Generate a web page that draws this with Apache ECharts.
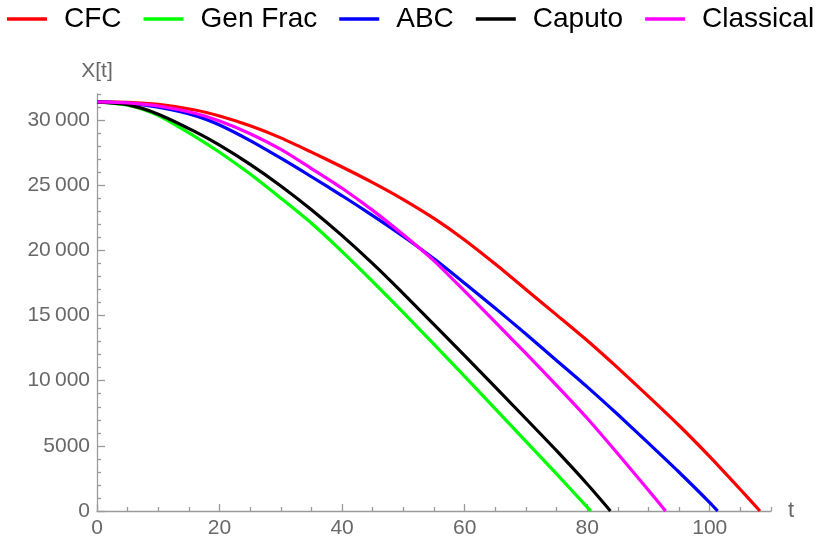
<!DOCTYPE html>
<html>
<head>
<meta charset="utf-8">
<script src="https://cdn.jsdelivr.net/npm/echarts@6/dist/echarts.min.js"></script>
<style>
html,body{margin:0;padding:0;background:#fff;}
#chart{width:821px;height:540px;}
</style>
</head>
<body>
<div id="chart"></div>
<script>
// ---- data ----
const seriesNames = ['CFC', 'Gen Frac', 'ABC', 'Caputo', 'Classical'];

const cfcT = [0, 5, 10, 16, 20, 25, 30, 35, 40, 45, 50, 55, 60, 65, 70, 75, 80, 85, 90, 95, 100, 105, 108.2];
const cfcX = [31400, 31360, 31200, 30770, 30310, 29560, 28635, 27540, 26400, 25200, 23900, 22450, 20800, 18950, 17000, 15050, 13080, 10980, 8800, 6560, 4170, 1650, 0];

const genFracT = [0, 5, 10, 16, 20, 25, 30, 35, 40, 45, 50, 60, 70, 75, 80, 80.6];
const genFracX = [31400, 31140, 30350, 28730, 27530, 25855, 24005, 22080, 19910, 17610, 15230, 10330, 5350, 2850, 300, 0];

const abcT = [0, 5, 10, 16, 20, 25, 30, 35, 40, 45, 50, 55, 60, 65, 70, 75, 80, 85, 90, 95, 100, 101.3];
const abcX = [31400, 31300, 30980, 30340, 29620, 28420, 27070, 25650, 24190, 22665, 21065, 19354, 17479, 15554, 13579, 11554, 9528, 7403, 5203, 2974, 649, 0];

const caputoT = [0, 5, 10, 16, 20, 25, 30, 35, 40, 45, 50, 60, 70, 75, 80, 83.8];
const caputoX = [31400, 31180, 30450, 29110, 28070, 26595, 24945, 23120, 21130, 18980, 16680, 11930, 7080, 4630, 2070, 0];

const classicalT = [0, 5, 10, 16, 20, 25, 30, 35, 40, 45, 50, 55, 60, 65, 70, 75, 80, 85, 90, 92.8];
const classicalX = [31400, 31320, 31080, 30520, 29920, 28945, 27745, 26280, 24770, 23070, 21195, 19198, 16866, 14490, 12090, 9640, 7116, 4390, 1590, 0];

const xMajorTicks = [0, 20, 40, 60, 80, 100];
const xMinorTicks = [5, 10, 15, 25, 30, 35, 45, 50, 55, 65, 70, 75, 85, 90, 95, 105, 110];
const yMajorTicks = [0, 5000, 10000, 15000, 20000, 25000, 30000];
const yMinorTicks = [1000, 2000, 3000, 4000, 6000, 7000, 8000, 9000, 11000, 12000, 13000, 14000,
  16000, 17000, 18000, 19000, 21000, 22000, 23000, 24000, 26000, 27000, 28000, 29000, 31000, 32000];

const seriesColors = ['#ff0000', '#00ff00', '#0000ff', '#000000', '#ff00ff'];
// ----------------------------------------------

function pairs(t, x) { return t.map((v, i) => [v, x[i]]); }
const dataSets = [pairs(cfcT, cfcX), pairs(genFracT, genFracX), pairs(abcT, abcX),
                  pairs(caputoT, caputoX), pairs(classicalT, classicalX)];

function fmtY(v) {
  const s = String(v);
  return v >= 10000 ? s.slice(0, -3) + '\u2009' + s.slice(-3) : s;
}

const axisGray = '#9a9a9a';
const labelGray = '#686868';
const font = 'Liberation Sans, Arial, sans-serif';

const chart = echarts.init(document.getElementById('chart'), null, {renderer: 'canvas'});
chart.setOption({
  animation: false,
  backgroundColor: '#ffffff',
  textStyle: {fontFamily: font},
  legend: {
    top: 5, left: 7, width: 814, padding: 0,
    icon: 'rect', itemWidth: 40, itemHeight: 3.5, itemGap: 22,
    textStyle: {fontSize: 28, color: '#000', fontFamily: font, padding: [0, 0, 0, 12]},
    data: seriesNames
  },
  grid: {left: 97, right: 50, top: 94, bottom: 29},
  xAxis: [{
    type: 'value', min: 0, max: 110,
    name: 't', nameLocation: 'end', nameGap: 17,
    nameTextStyle: {fontSize: 22, color: labelGray, verticalAlign: 'middle'},
    axisLine: {show: true, lineStyle: {color: axisGray, width: 1.3}},
    axisTick: {show: true, inside: true, length: 7, customValues: xMajorTicks, lineStyle: {color: axisGray, width: 1.3}},
    axisLabel: {customValues: xMajorTicks, color: labelGray, fontSize: 21, margin: 7},
    splitLine: {show: false}
  }, {
    type: 'value', min: 0, max: 110, position: 'bottom',
    axisLine: {show: false},
    axisTick: {show: true, inside: true, length: 4, customValues: xMinorTicks, lineStyle: {color: axisGray, width: 1.3}},
    axisLabel: {show: false},
    splitLine: {show: false}
  }],
  yAxis: [{
    type: 'value', min: 0, max: 32000,
    name: 'X[t]', nameLocation: 'end', nameGap: 12,
    nameTextStyle: {fontSize: 21, color: labelGray},
    axisLine: {show: true, lineStyle: {color: axisGray, width: 1.3}},
    axisTick: {show: true, inside: true, length: 8, customValues: yMajorTicks, lineStyle: {color: axisGray, width: 1.3}},
    axisLabel: {customValues: yMajorTicks, color: labelGray, fontSize: 21, margin: 7, formatter: fmtY},
    splitLine: {show: false}
  }, {
    type: 'value', min: 0, max: 32000, position: 'left',
    axisLine: {show: false},
    axisTick: {show: true, inside: true, length: 4, customValues: yMinorTicks, lineStyle: {color: axisGray, width: 1.3}},
    axisLabel: {show: false},
    splitLine: {show: false}
  }],
  series: seriesNames.map((n, i) => ({
    name: n, type: 'line', xAxisIndex: 0, yAxisIndex: 0,
    data: dataSets[i], smooth: 0.25, showSymbol: false, symbol: 'none',
    lineStyle: {color: seriesColors[i], width: 3.2},
    itemStyle: {color: seriesColors[i]},
    clip: false
  }))
});
</script>
</body>
</html>
